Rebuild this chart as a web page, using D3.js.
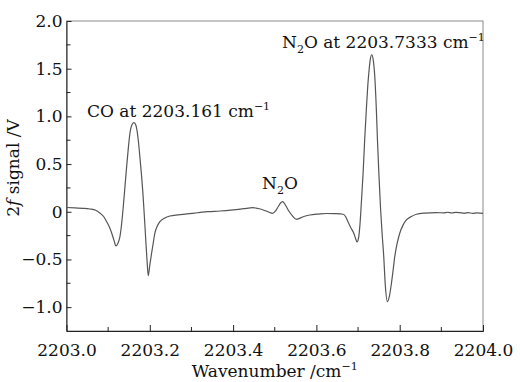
<!DOCTYPE html>
<html>
<head>
<meta charset="utf-8">
<script src="https://cdn.jsdelivr.net/npm/d3@7"></script>
<style>
  body { margin: 0; background: #fff; }
  svg text { font-family: "DejaVu Serif", "Liberation Serif", serif; fill: #111; }
</style>
</head>
<body>
<div id="grafico"></div>
<script>
// offsets from 2203 cm-1 and the 2f signal (V)
const wavenumber = [
  0.000, 0.020, 0.040, 0.056, 0.070, 0.080, 0.090, 0.0964, 0.1030, 0.1084, 0.1140, 0.1188, 0.1235, 0.1283,
  0.1325, 0.1363, 0.1405, 0.1444, 0.1485, 0.1523, 0.1575, 0.1620, 0.1668, 0.1723, 0.1765, 0.1804,
  0.1835, 0.1860, 0.1885, 0.1907, 0.1935, 0.1963, 0.2000, 0.2044, 0.2085, 0.2123, 0.2180, 0.2243,
  0.2350, 0.2483, 0.2680, 0.2884, 0.3150, 0.3395, 0.3683, 0.4000, 0.4250, 0.4475, 0.4600, 0.4722,
  0.4850, 0.4947, 0.5020, 0.5082, 0.5140, 0.5187, 0.5250, 0.5322, 0.5420, 0.5523, 0.5680, 0.5842,
  0.6050, 0.6243, 0.6450, 0.6641, 0.6700, 0.6761, 0.6830, 0.6898, 0.6940, 0.6977, 0.7010, 0.7042,
  0.7080, 0.7121, 0.7160, 0.7203, 0.7235, 0.7265, 0.7295, 0.7330, 0.7365, 0.7402, 0.7435, 0.7466,
  0.7500, 0.7538, 0.7578, 0.7617, 0.7654, 0.7706, 0.7755, 0.7802, 0.7840, 0.7881, 0.7940, 0.8001,
  0.8080, 0.8162, 0.8280, 0.8402, 0.8600, 0.8882, 0.9050, 0.9150, 0.9250, 0.9350, 0.9441, 0.9550,
  0.9650, 0.9750, 0.9850, 1.0000
];
const signal = [
  0.045, 0.040, 0.036, 0.029, 0.016, -0.013, -0.055, -0.104, -0.160, -0.222, -0.300, -0.358, -0.330, -0.261,
  -0.120, 0.053, 0.270, 0.473, 0.670, 0.823, 0.915, 0.934, 0.905, 0.753, 0.560, 0.368,
  0.190, 0.019, -0.160, -0.327, -0.520, -0.670, -0.560, -0.432, -0.320, -0.222, -0.150, -0.104,
  -0.068, -0.044, -0.032, -0.023, -0.010, 0.001, 0.008, 0.020, 0.032, 0.043, 0.034, 0.019,
  -0.002, -0.016, 0.010, 0.053, 0.092, 0.106, 0.075, 0.019, -0.040, -0.079, -0.052, -0.034,
  -0.024, -0.018, -0.020, -0.026, -0.050, -0.107, -0.170, -0.225, -0.280, -0.317, -0.280, -0.156,
  0.100, 0.404, 0.760, 1.102, 1.330, 1.486, 1.600, 1.646, 1.590, 1.416, 1.120, 0.753,
  0.400, 0.053, -0.230, -0.471, -0.767, -0.942, -0.880, -0.749, -0.620, -0.471, -0.330, -0.225,
  -0.140, -0.086, -0.050, -0.026, -0.014, -0.009, -0.012, -0.005, -0.013, -0.006, -0.009, -0.016,
  -0.008, -0.017, -0.011, -0.016
];

const xTicks = [2203.0, 2203.2, 2203.4, 2203.6, 2203.8, 2204.0];
const xMinorTicks = [2203.1, 2203.3, 2203.5, 2203.7, 2203.9];
const yTicks = [-1.0, -0.5, 0, 0.5, 1.0, 1.5, 2.0];
const yMinorTicks = [-0.75, -0.25, 0.25, 0.75, 1.25, 1.75];

const width = 520;
const height = 382;
const margin = { top: 21, right: 37, bottom: 51, left: 66.5 };

const data = wavenumber.map((w, i) => ({ x: 2203 + w, y: signal[i] }));

const xScale = d3.scaleLinear()
  .domain([2203.0, 2204.0])
  .range([margin.left, width - margin.right]);

const yScale = d3.scaleLinear()
  .domain([-1.25, 2.0])
  .range([height - margin.bottom, margin.top]);

const svg = d3.select('#grafico')
  .append('svg')
  .attr('width', width)
  .attr('height', height);

// marco
svg.append('rect')
  .attr('x', margin.left)
  .attr('y', margin.top)
  .attr('width', xScale.range()[1] - margin.left)
  .attr('height', yScale.range()[0] - margin.top)
  .attr('fill', 'none')
  .attr('stroke', '#8a8a8a')
  .attr('stroke-width', 1);

const fmtY = d => d === 0 ? '0' : d3.format('.1f')(d).replace('-', '\u2212');

// eje x, ticks hacia dentro
const xAxis = d3.axisBottom(xScale)
  .tickValues(xTicks)
  .tickSize(-6)
  .tickPadding(13)
  .tickFormat(d3.format('.1f'));

const gx = svg.append('g')
  .attr('transform', `translate(0, ${yScale.range()[0]})`)
  .call(xAxis);

gx.selectAll('.tick')
  .filter(d => d === 2203.0 || d === 2204.0)
  .select('line').remove();

gx.selectAll('.minor')
  .data(xMinorTicks)
  .enter()
  .append('line')
  .attr('x1', d => xScale(d))
  .attr('x2', d => xScale(d))
  .attr('y1', 0)
  .attr('y2', -4)
  .attr('stroke', '#222');

// eje y
const yAxis = d3.axisLeft(yScale)
  .tickValues(yTicks)
  .tickSize(-5)
  .tickPadding(4)
  .tickFormat(fmtY);

const gy = svg.append('g')
  .attr('transform', `translate(${margin.left}, 0)`)
  .call(yAxis);

gy.selectAll('.tick')
  .filter(d => d === 2.0)
  .select('line').remove();

gy.selectAll('.minor')
  .data(yMinorTicks)
  .enter()
  .append('line')
  .attr('x1', 0)
  .attr('x2', 4)
  .attr('y1', d => yScale(d))
  .attr('y2', d => yScale(d))
  .attr('stroke', '#222');

[gx, gy].forEach(g => {
  g.select('.domain').attr('stroke', '#222');
  g.selectAll('.tick line').attr('stroke', '#222');
  g.selectAll('text')
    .attr('font-family', '"DejaVu Serif", serif')
    .attr('font-size', 17)
    .attr('fill', '#111');
});

// curva
const line = d3.line()
  .x(d => xScale(d.x))
  .y(d => yScale(d.y))
  .curve(d3.curveMonotoneX);

svg.append('path')
  .datum(data)
  .attr('fill', 'none')
  .attr('stroke', '#555')
  .attr('stroke-width', 1.2)
  .attr('d', line);

// etiquetas
function label(x, y, parts) {
  const t = svg.append('text')
    .attr('x', x)
    .attr('y', y)
    .attr('font-size', 17);
  parts.forEach(p => {
    const s = t.append('tspan').text(p.text);
    if (p.sub) s.attr('font-size', 11).attr('dy', 5);
    if (p.sup) s.attr('font-size', 11).attr('dy', -7);
    if (p.back) s.attr('dy', p.back);
  });
  return t;
}

label(87, 117, [
  { text: 'CO at 2203.161 cm' }, { text: '\u22121', sup: true }
]);

label(282, 48, [
  { text: 'N' }, { text: '2', sub: true }, { text: 'O at 2203.7333 cm', back: -5 },
  { text: '\u22121', sup: true }
]);

label(262, 189, [
  { text: 'N' }, { text: '2', sub: true }, { text: 'O', back: -5 }
]);

// titulos de ejes
const xt = svg.append('text')
  .attr('x', (margin.left + xScale.range()[1]) / 2)
  .attr('y', 377)
  .attr('text-anchor', 'middle')
  .attr('font-size', 17);
xt.append('tspan').text('Wavenumber /cm');
xt.append('tspan').text('\u22121').attr('font-size', 11).attr('dy', -7);

const yt = svg.append('text')
  .attr('transform', `translate(19, 168) rotate(-90)`)
  .attr('text-anchor', 'middle')
  .attr('font-size', 17);
yt.append('tspan').text('2');
yt.append('tspan').text('f').attr('font-style', 'italic');
yt.append('tspan').text(' signal /V');
</script>
</body>
</html>
